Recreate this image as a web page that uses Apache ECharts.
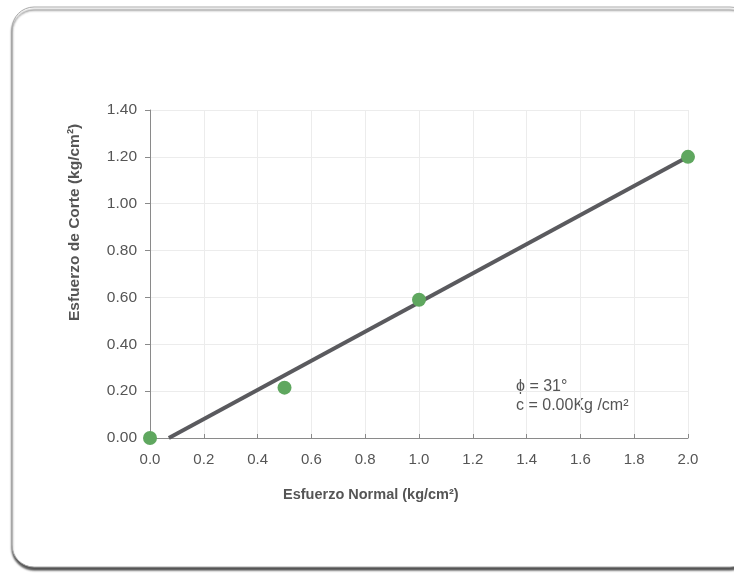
<!DOCTYPE html>
<html>
<head>
<meta charset="utf-8">
<script src="https://cdn.jsdelivr.net/npm/echarts@6/dist/echarts.min.js"></script>
<style>
  html, body { margin: 0; padding: 0; background: #fff; }
  #main { width: 734px; height: 574px; }
</style>
</head>
<body>
<div id="main"></div>
<script>
// ensayos de corte directo
var normalStress = [0.0, 0.5, 1.0, 2.0];
var shearStress = [0.0, 0.215, 0.59, 1.2];
// recta de ajuste (envolvente de falla)
var fitX = [0.07, 2.0];
var fitY = [0.0, 1.2];
var annotation = ['\u03d5 = 31\u00b0', 'c = 0.00Kg /cm\u00b2'];

var points = normalStress.map(function (x, i) { return [x, shearStress[i]]; });
var fitLine = fitX.map(function (x, i) { return [x, fitY[i]]; });

var grey = '#555';

echarts.init(document.getElementById('main')).setOption({
  backgroundColor: '#fff',
  animation: false,
  grid: { left: 150, right: 46, top: 110, bottom: 136 },
  graphic: [
    {
      type: 'rect', z: -10,
      shape: { x: 12, y: 7, width: 740, height: 560, r: 22 },
      style: { fill: '#fff', stroke: '#aaa', lineWidth: 1, shadowColor: 'rgba(60,60,60,0.9)', shadowOffsetY: 3, shadowBlur: 2 }
    },
    {
      type: 'text', left: 283, top: 487,
      style: { text: 'Esfuerzo Normal (kg/cm\u00b2)', font: 'bold 14.5px "Liberation Sans", Arial', fill: grey }
    },
    {
      type: 'text', x: 67, y: 321, rotation: Math.PI / 2,
      style: { text: 'Esfuerzo de Corte (kg/cm\u00b2)', font: 'bold 15.5px "Liberation Sans", Arial', fill: grey }
    },
    {
      type: 'text', left: 516, top: 377,
      style: { text: annotation.join('\n'), font: '16px "Liberation Sans", Arial', fill: grey, lineHeight: 19 }
    }
  ],
  xAxis: {
    type: 'value', min: 0, max: 2, interval: 0.2,
    axisLine: { lineStyle: { color: '#8a8a8a', width: 1 } },
    axisTick: { show: true, inside: true, length: 4, lineStyle: { color: '#8a8a8a' } },
    axisLabel: { color: grey, fontSize: 15, fontFamily: 'Liberation Sans', margin: 14,
      formatter: function (v) { return v.toFixed(1); } },
    splitLine: { show: true, lineStyle: { color: '#ececec' } }
  },
  yAxis: {
    type: 'value', min: 0, max: 1.4, interval: 0.2,
    axisLine: { show: true, lineStyle: { color: '#8a8a8a', width: 1 } },
    axisTick: { show: true, length: 5, lineStyle: { color: '#8a8a8a' } },
    axisLabel: { color: grey, fontSize: 15.5, fontFamily: 'Liberation Sans', margin: 13,
      formatter: function (v) { return v.toFixed(2); } },
    splitLine: { show: true, lineStyle: { color: '#ececec' } }
  },
  series: [
    {
      type: 'line', data: fitLine, symbol: 'none', z: 2,
      lineStyle: { color: '#5a5a5e', width: 4 }
    },
    {
      type: 'scatter', data: points, symbolSize: 14, z: 3,
      itemStyle: { color: '#5fa75f', opacity: 1 }
    }
  ]
});
</script>
</body>
</html>
